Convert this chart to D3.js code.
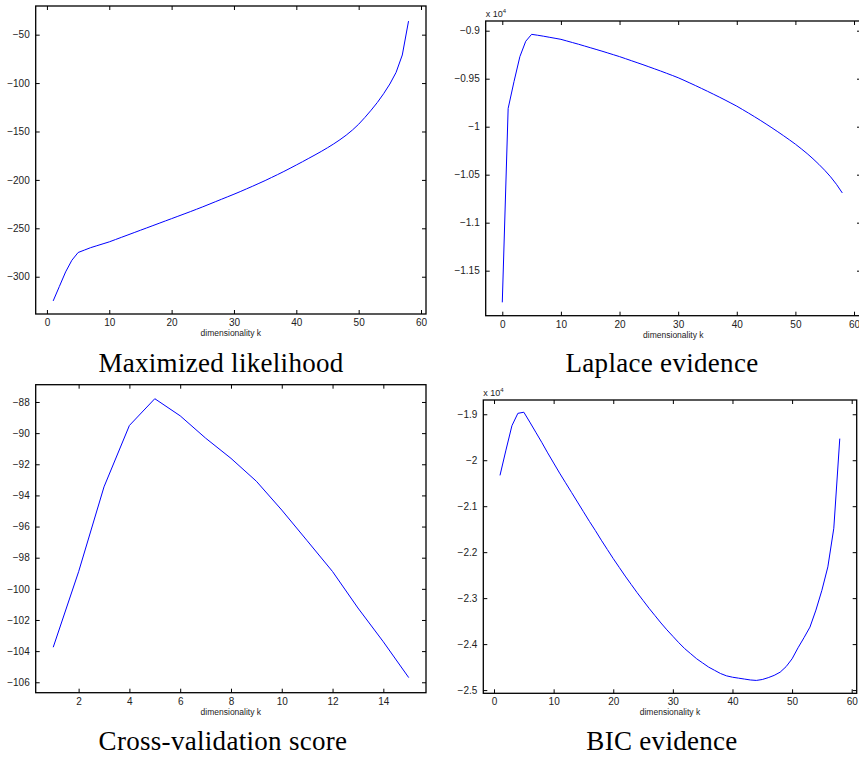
<!DOCTYPE html>
<html>
<head>
<meta charset="utf-8">
<script src="https://cdn.jsdelivr.net/npm/d3@7"></script>
<style>
  body { margin: 0; background: #fff; }
  svg { display: block; }
  .tick text { font-family: "Liberation Sans", Arial, sans-serif; font-size: 10px; fill: #222; }
  .xlabel { font-family: "Liberation Sans", Arial, sans-serif; font-size: 8.5px; fill: #222; }
  .mult { font-family: "Liberation Sans", Arial, sans-serif; font-size: 9px; fill: #222; }
  .title { font-family: "Liberation Serif", "DejaVu Serif", serif; font-size: 27px; letter-spacing: 0.3px; fill: #000; }
</style>
</head>
<body>
<div id="root"></div>
<script>
var width = 859;
var height = 757;

// Maximized likelihood, k = 1..58
var mlK = d3.range(1, 59);
var mlValues = [-325, -310, -295, -283, -275, -272.5, -270, -268, -266, -264,
  -261.6, -259.2, -256.8, -254.4, -252, -249.6, -247.2, -244.8, -242.4, -240,
  -237.6, -235.2, -232.8, -230.3, -227.8, -225.2, -222.6, -220, -217.4, -214.8,
  -212.1, -209.3, -206.5, -203.6, -200.7, -197.6, -194.5, -191.3, -188.0, -184.6,
  -181.2, -177.7, -174.2, -170.6, -166.8, -162.8, -158.5, -153.8, -148.5, -142.5,
  -135.5, -128, -120, -111, -101, -89, -71, -36];
var mlXTicks = [0, 10, 20, 30, 40, 50, 60];
var mlYTicks = [-300, -250, -200, -150, -100, -50];

// Laplace evidence, k = 0..58
var lapK = d3.range(0, 59);
var lapValues = [-11830, -9810, -9530, -9270, -9110, -9038, -9047, -9057, -9068, -9079,
  -9090, -9107, -9124, -9141, -9159, -9177, -9195, -9213, -9232, -9251,
  -9270, -9291, -9312, -9333, -9354, -9376, -9398, -9420, -9443, -9466,
  -9490, -9517, -9545, -9573, -9602, -9631, -9661, -9691, -9722, -9754,
  -9786, -9822, -9858, -9895, -9933, -9972, -10012, -10053, -10095, -10138,
  -10182, -10230, -10280, -10334, -10392, -10454, -10522, -10600, -10690];
var lapXTicks = [0, 10, 20, 30, 40, 50, 60];
var lapYTicks = [-11500, -11000, -10500, -10000, -9500, -9000];
var lapYLabels = ["\u22121.15", "\u22121.1", "\u22121.05", "\u22121", "\u22120.95", "\u22120.9"];

// Cross-validation score, k = 1..15
var cvK = d3.range(1, 16);
var cvValues = [-103.75, -98.9, -93.45, -89.51, -87.79, -88.89, -90.32, -91.62,
  -93.09, -94.94, -96.91, -98.89, -101.23, -103.4, -105.7];
var cvXTicks = [2, 4, 6, 8, 10, 12, 14];
var cvYTicks = [-106, -104, -102, -100, -98, -96, -94, -92, -90, -88];

// BIC evidence, k = 1..58
var bicK = d3.range(1, 59);
var bicValues = [-20330, -19780, -19250, -18980, -18956, -19170, -19390, -19610, -19840, -20060,
  -20280, -20490, -20700, -20910, -21120, -21330, -21530, -21740, -21940, -22140,
  -22330, -22520, -22700, -22880, -23050, -23220, -23380, -23540, -23690, -23830,
  -23970, -24100, -24210, -24320, -24410, -24500, -24570, -24640, -24690, -24720,
  -24740, -24760, -24780, -24790, -24770, -24730, -24680, -24610, -24490, -24320,
  -24080, -23860, -23630, -23260, -22830, -22320, -21480, -19530];
var bicXTicks = [0, 10, 20, 30, 40, 50, 60];
var bicYTicks = [-25000, -24000, -23000, -22000, -21000, -20000, -19000];
var bicYLabels = ["\u22122.5", "\u22122.4", "\u22122.3", "\u22122.2", "\u22122.1", "\u22122", "\u22121.9"];

var titles = ["Maximized likelihood", "Laplace evidence", "Cross-validation score", "BIC evidence"];

function minusFmt(d) {
  return d < 0 ? "\u2212" + Math.abs(d) : String(d);
}

var panels = [
  { box: [35.7, 426, 6, 314], xd: [-1.8, 60.8], yd: [-338.5, -20.4],
    k: mlK, v: mlValues, xt: mlXTicks, yt: mlYTicks, yl: null, mult: false,
    title: titles[0], tx: 221, ty: 372 },
  { box: [485.7, 861, 21, 315.7], xd: [-2.83, 61.19], yd: [-11969, -8899],
    k: lapK, v: lapValues, xt: lapXTicks, yt: lapYTicks, yl: lapYLabels, mult: true,
    title: titles[1], tx: 662, ty: 372 },
  { box: [35.7, 426, 384.7, 692.7], xd: [0.31, 15.68], yd: [-106.67, -86.89],
    k: cvK, v: cvValues, xt: cvXTicks, yt: cvYTicks, yl: null, mult: false,
    title: titles[2], tx: 223, ty: 750 },
  { box: [483.3, 856.7, 400, 693.3], xd: [-1.8, 60.84], yd: [-25070, -18690],
    k: bicK, v: bicValues, xt: bicXTicks, yt: bicYTicks, yl: bicYLabels, mult: true,
    title: titles[3], tx: 662, ty: 750 }
];

var svg = d3.select('#root')
  .append('svg')
    .attr('width', width)
    .attr('height', height);

panels.forEach(function(p) {
  var x = d3.scaleLinear().domain(p.xd).range([p.box[0], p.box[1]]);
  var y = d3.scaleLinear().domain(p.yd).range([p.box[3], p.box[2]]);
  var tick = 4;

  var yFmt = p.yl ? function(d, i) { return p.yl[i]; } : minusFmt;

  // bottom / left axes with labels, ticks pointing inward
  svg.append('g')
    .attr('transform', 'translate(0,' + p.box[3] + ')')
    .call(d3.axisBottom(x).tickValues(p.xt).tickFormat(minusFmt)
      .tickSizeInner(-tick).tickSizeOuter(0).tickPadding(5));
  svg.append('g')
    .attr('transform', 'translate(' + p.box[0] + ',0)')
    .call(d3.axisLeft(y).tickValues(p.yt).tickFormat(yFmt)
      .tickSizeInner(-tick).tickSizeOuter(0).tickPadding(6));
  // top / right ticks without labels
  svg.append('g')
    .attr('transform', 'translate(0,' + p.box[2] + ')')
    .call(d3.axisTop(x).tickValues(p.xt).tickFormat('')
      .tickSizeInner(-tick).tickSizeOuter(0));
  svg.append('g')
    .attr('transform', 'translate(' + p.box[1] + ',0)')
    .call(d3.axisRight(y).tickValues(p.yt).tickFormat('')
      .tickSizeInner(-tick).tickSizeOuter(0));

  svg.selectAll('.domain').remove();
  svg.selectAll('.tick line').attr('stroke', '#000');

  svg.append('rect')
    .attr('x', p.box[0])
    .attr('y', p.box[2])
    .attr('width', p.box[1] - p.box[0])
    .attr('height', p.box[3] - p.box[2])
    .attr('fill', 'none')
    .attr('stroke', '#000')
    .attr('stroke-width', 1.3);

  var line = d3.line()
    .x(function(d, i) { return x(p.k[i]); })
    .y(function(d) { return y(d); });

  svg.append('path')
    .datum(p.v)
    .attr('d', line)
    .attr('fill', 'none')
    .attr('stroke', '#0000ff')
    .attr('stroke-width', 1);

  svg.append('text')
    .attr('class', 'xlabel')
    .attr('x', (p.box[0] + p.box[1]) / 2)
    .attr('y', p.box[3] + 22)
    .attr('text-anchor', 'middle')
    .text('dimensionality k');

  if (p.mult) {
    var m = svg.append('text')
      .attr('class', 'mult')
      .attr('x', p.box[0])
      .attr('y', p.box[2] - 4);
    m.append('tspan').text('x 10');
    m.append('tspan').attr('dy', -4).style('font-size', '6px').text('4');
  }

  svg.append('text')
    .attr('class', 'title')
    .attr('x', p.tx)
    .attr('y', p.ty)
    .attr('text-anchor', 'middle')
    .text(p.title);
});
</script>
</body>
</html>
